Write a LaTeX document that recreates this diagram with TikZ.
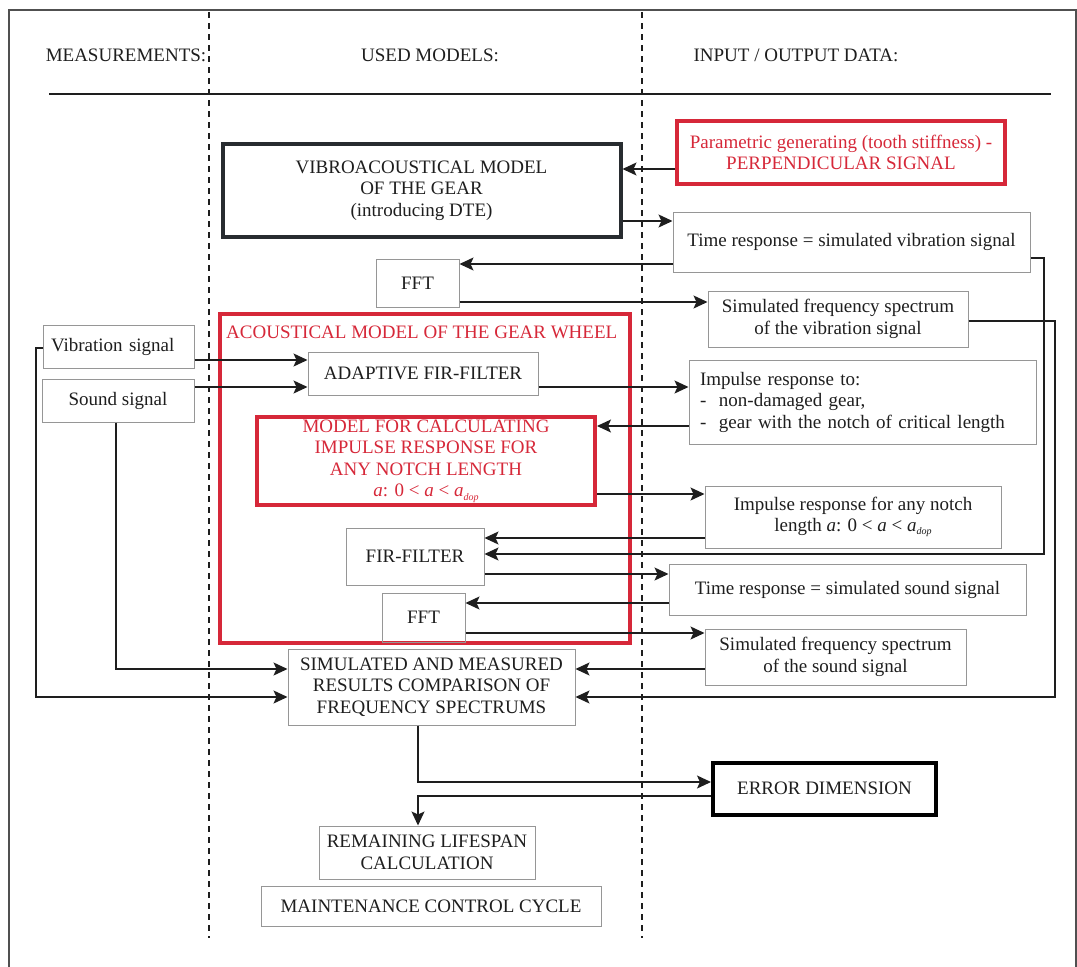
\documentclass[tikz,border=0pt]{standalone}
\usepackage{fontspec}
\setmainfont{Liberation Serif}
\usetikzlibrary{arrows.meta}

\definecolor{redline}{RGB}{214,40,57}
\definecolor{ink}{RGB}{30,30,30}
\definecolor{boxgray}{RGB}{150,150,150}
\definecolor{darkbox}{RGB}{40,44,48}
\definecolor{framegray}{RGB}{80,80,80}

\tikzset{
  txt/.style={font=\fontsize{19}{21.5}\selectfont, text=ink},
  box/.style={draw=boxgray, line width=1pt, txt, align=center, inner sep=0pt},
  thickbox/.style={draw=darkbox, line width=4pt, txt, align=center, inner sep=0pt},
  redbox/.style={draw=redline, line width=4pt, txt, text=redline, align=center, inner sep=0pt},
  conn/.style={draw=ink, line width=1.2pt},
  arr/.style={conn, -{Stealth[length=14pt,width=13pt,inset=3pt]}},
  divider/.style={draw=ink, line width=1.2pt, dash pattern=on 6pt off 5pt},
  header/.style={txt},
}

\newcommand{\adop}{\textit{a}\raisebox{-0.35ex}{\fontsize{10}{10}\selectfont\textit{dop}}}

\begin{document}
\begin{tikzpicture}[x=1pt,y=-1pt]
\useasboundingbox (0,0) rectangle (1077,967);

% outer frame (open at the bottom)
\draw[framegray, line width=1.5pt] (9,967) -- (9,10) -- (1076,10) -- (1076,967);

% column dividers and header rule
\coordinate (d1top) at (209,12);   \coordinate (d1bot) at (209,938);
\coordinate (d2top) at (642,12);   \coordinate (d2bot) at (642,938);
\draw[divider] (d1top) -- (d1bot);
\draw[divider] (d2top) -- (d2bot);
\coordinate (rulel) at (49,94);  \coordinate (ruler) at (1051,94);
\draw[conn] (rulel) -- (ruler);

% column headers
\node[header] (hmeas) at (126,55) {MEASUREMENTS:};
\node[header] (hmodels) at (430,55) {USED MODELS:};
\node[header] (hio) at (796,55) {INPUT / OUTPUT DATA:};

% vibroacoustical part
\node[thickbox, minimum width=398pt, minimum height=93pt] (vibro) at (421.5,190.5)
  {VIBROACOUSTICAL MODEL\\OF THE GEAR\\(introducing DTE)};
\node[redbox, minimum width=328pt, minimum height=63pt] (param) at (841,152.5)
  {Parametric generating (tooth stiffness) -\\PERPENDICULAR SIGNAL};
\node[box, minimum width=357pt, minimum height=60pt] (timevib) at (851.5,242)
  {Time response = simulated vibration signal};
\node[box, minimum width=83pt, minimum height=48pt] (fft1) at (417.5,283) {FFT};
\node[box, minimum width=260pt, minimum height=56pt] (freqvib) at (838,319)
  {Simulated frequency spectrum\\of the vibration signal};

% acoustical model of the gear wheel
\node[draw=redline, line width=4pt, minimum width=410pt, minimum height=329pt, inner sep=0pt] (acoust) at (425,478.5) {};
\node[txt, text=redline, anchor=west, inner sep=0pt] (acoustitle) at (226,332) {ACOUSTICAL MODEL OF THE GEAR WHEEL};

\node[box, minimum width=151pt, minimum height=43pt, text width=135pt, align=left, inner xsep=8pt] (vibsig) at (118.5,346.5) {Vibration signal};
\node[box, minimum width=152pt, minimum height=43pt] (sndsig) at (118,400.5) {Sound signal};

\node[box, minimum width=230pt, minimum height=43pt] (adapt) at (423,373.5) {ADAPTIVE FIR-FILTER};
\node[box, minimum width=347pt, minimum height=84pt, text width=325pt, align=left, inner xsep=11pt] (impresp) at (862.5,402)
  {Impulse response to:\\-\ \ non-damaged gear,\\-\ \ gear with the notch of critical length};
\node[redbox, minimum width=338pt, minimum height=88pt] (calc) at (426,461)
  {MODEL FOR CALCULATING\\IMPULSE RESPONSE FOR\\ANY NOTCH LENGTH\\\textit{a}: 0 < \textit{a} < \adop};
\node[box, minimum width=296pt, minimum height=62pt] (anynotch) at (853,517)
  {Impulse response for any notch\\length \textit{a}: 0 < \textit{a} < \adop};
\node[box, minimum width=138pt, minimum height=57pt] (fir) at (415,556.5) {FIR-FILTER};
\node[box, minimum width=357pt, minimum height=51pt] (timesnd) at (847.5,589.5)
  {Time response = simulated sound signal};
\node[box, minimum width=83pt, minimum height=49pt] (fft2) at (423.5,617.5) {FFT};
\node[box, minimum width=261pt, minimum height=56pt] (freqsnd) at (835.5,657)
  {Simulated frequency spectrum\\of the sound signal};

% comparison and evaluation
\node[box, minimum width=287pt, minimum height=76pt] (compare) at (431.5,687)
  {SIMULATED AND MEASURED\\RESULTS COMPARISON OF\\FREQUENCY SPECTRUMS};
\node[thickbox, draw=black, minimum width=223pt, minimum height=52pt] (error) at (824.5,788.5) {ERROR DIMENSION};
\node[box, minimum width=216pt, minimum height=53pt] (lifespan) at (427,852.5)
  {REMAINING LIFESPAN\\CALCULATION};
\node[box, minimum width=340pt, minimum height=40pt] (maint) at (431,906) {MAINTENANCE CONTROL CYCLE};

% connectors: vibroacoustical part
\draw[arr] (param.west |- 0,169) -- (vibro.east |- 0,169);
\draw[arr] (vibro.east |- 0,221) -- (timevib.west |- 0,221);
\draw[arr] (timevib.west |- 0,264) -- (fft1.east |- 0,264);
\draw[arr] (fft1.east |- 0,302) -- (freqvib.west |- 0,302);
\draw[arr] (timevib.east |- 0,258) -- (1044,258) -- (1044,554) -- (fir.east |- 0,554);
\draw[arr] (freqvib.east |- 0,321) -- (1055,321) -- (1055,697) -- (compare.east |- 0,697);

% connectors: measurements
\draw[arr] (vibsig.east |- 0,360) -- (adapt.west |- 0,360);
\draw[arr] (sndsig.east |- 0,387) -- (adapt.west |- 0,387);
\draw[arr] (vibsig.west |- 0,348) -- (36,348) -- (36,697) -- (compare.west |- 0,697);
\draw[arr] (sndsig.south -| 116,0) -- (116,669) -- (compare.west |- 0,669);

% connectors: acoustical part
\draw[arr] (adapt.east |- 0,387) -- (impresp.west |- 0,387);
\draw[arr] (impresp.west |- 0,426) -- (calc.east |- 0,426);
\draw[arr] (calc.east |- 0,494) -- (anynotch.west |- 0,494);
\draw[arr] (anynotch.west |- 0,538) -- (fir.east |- 0,538);
\draw[arr] (fir.east |- 0,574) -- (timesnd.west |- 0,574);
\draw[arr] (timesnd.west |- 0,603) -- (fft2.east |- 0,603);
\draw[arr] (fft2.east |- 0,633) -- (freqsnd.west |- 0,633);
\draw[arr] (freqsnd.west |- 0,669) -- (compare.east |- 0,669);

% connectors: evaluation
\draw[arr] (compare.south -| 418,0) -- (418,782) -- (error.west |- 0,782);
\draw[arr] (error.west |- 0,796) -- (418,796) -- (lifespan.north -| 418,0);
\end{tikzpicture}
\end{document}
